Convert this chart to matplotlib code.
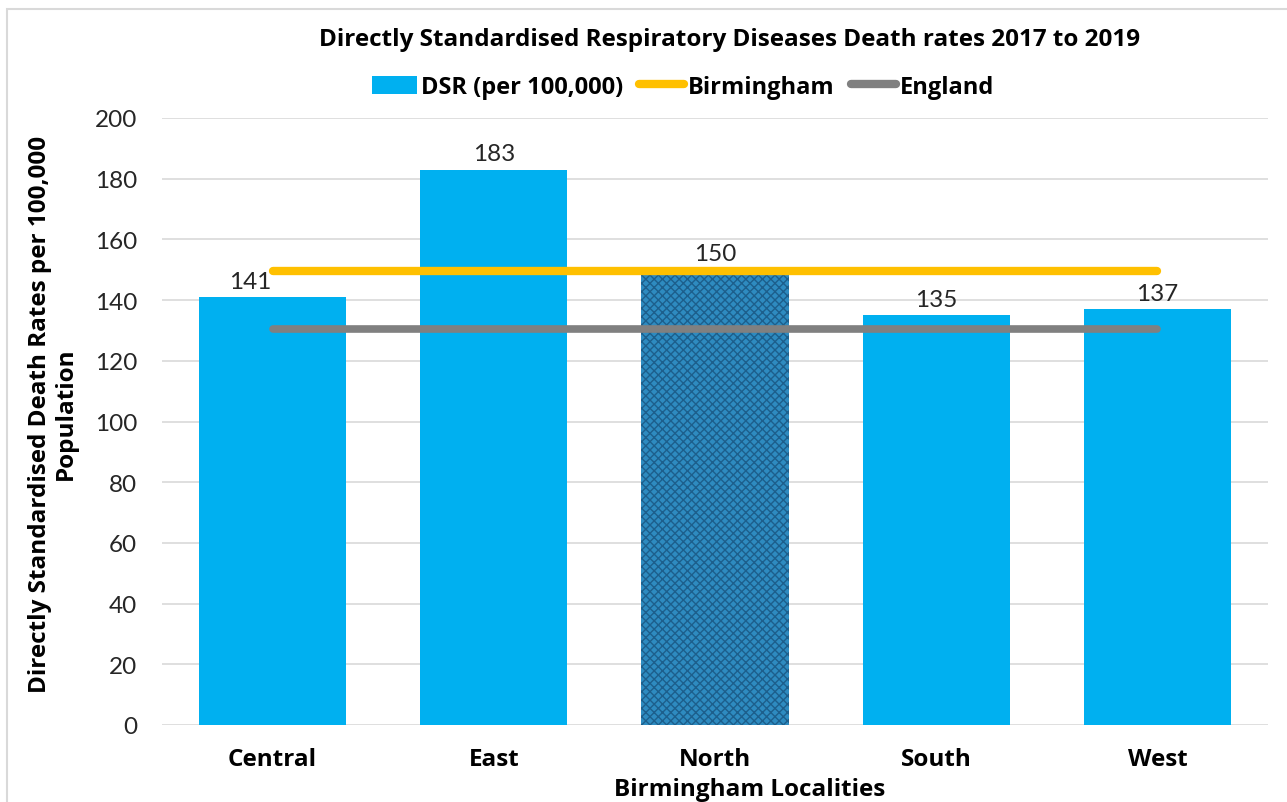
import matplotlib
matplotlib.use("Agg")
import matplotlib.pyplot as plt
from matplotlib.patches import Patch, Rectangle
from matplotlib.lines import Line2D

categories = ["Central", "East", "North", "South", "West"]
dsr_values = [141, 183, 150, 135, 137]
birmingham_rate = 149.5
england_rate = 130.5
yticks = [0, 20, 40, 60, 80, 100, 120, 140, 160, 180, 200]

plt.rcParams['font.family'] = ['Lato', 'DejaVu Sans']
plt.rcParams['hatch.linewidth'] = 1.0
BOLD = ['Open Sans', 'DejaVu Sans']

W, H = 1287, 803
fig = plt.figure(figsize=(W / 100, H / 100), dpi=100)

# chart border
fig.patches.append(Rectangle((7 / W, -0.1), 1.2, 1 - 10 / H + 0.1, transform=fig.transFigure,
                             fill=False, edgecolor='#d9d9d9', linewidth=1.5))

ax = fig.add_axes([162 / W, 1 - 726 / H, (1268 - 162) / W, (726 - 119) / H])
x = list(range(len(categories)))
colors = ['#00B0F0'] * len(categories)
bars = ax.bar(x, dsr_values, width=0.665, color=colors, zorder=2)
# North bar hatched
nb = bars[2]
nb.set_facecolor('#2E8BC0')
nb.set_edgecolor('#1d5f8c')
nb.set_hatch('xxxx')
nb.set_linewidth(0)

ax.plot([x[0], x[-1]], [birmingham_rate] * 2, color='#FFC000', lw=6, solid_capstyle='round', zorder=3)
ax.plot([x[0], x[-1]], [england_rate] * 2, color='#808080', lw=5.5, solid_capstyle='round', zorder=3)

for i, v in enumerate(dsr_values):
    dx = -16 if i == 0 else 0
    ax.annotate(f"{v}", (x[i], v), xytext=(dx, 4), textcoords='offset points',
                ha='center', va='bottom', fontsize=17.5, color='#262626')

ax.set_xlim(-0.5, len(categories) - 0.5)
ax.set_ylim(0, 200)
ax.set_yticks(yticks)
ax.set_yticklabels([str(t) for t in yticks], fontsize=17.5, color='#262626')
ax.set_xticks(x)
ax.set_xticklabels(categories, fontsize=17.5, fontweight='bold', color='black', family=BOLD)
ax.tick_params(axis='both', length=0)
ax.tick_params(axis='y', pad=18)
ax.tick_params(axis='x', pad=16)
ax.grid(axis='y', color='#d9d9d9', lw=1.2, zorder=0)
ax.set_axisbelow(True)
for s in ax.spines.values():
    s.set_visible(False)

fig.text(730 / W, 1 - 40 / H, "Directly Standardised Respiratory Diseases Death rates 2017 to 2019",
         ha='center', va='center', fontsize=17.5, fontweight='bold', family=BOLD)
fig.text(750 / W, 1 - 790 / H, "Birmingham Localities", ha='center', va='center',
         fontsize=17.5, fontweight='bold', family=BOLD)
fig.text(53 / W, 1 - 414 / H, "Directly Standardised Death Rates per 100,000\nPopulation",
         ha='center', va='center', rotation=90, fontsize=17.5, fontweight='bold', family=BOLD,
         linespacing=1.1)

handles = [Patch(facecolor='#00B0F0', edgecolor='none'),
           Line2D([0], [0], color='#FFC000', lw=6, solid_capstyle='round'),
           Line2D([0], [0], color='#808080', lw=6, solid_capstyle='round')]
labels = ["DSR (per 100,000)", "Birmingham", "England"]
fig.legend(handles, labels, loc='center', bbox_to_anchor=(683 / W, 1 - 88 / H), ncol=3,
           frameon=False, prop={'family': BOLD, 'weight': 'bold', 'size': 17},
           handlelength=1.9, handletextpad=0.15, columnspacing=0.7, handleheight=0.8)

fig.savefig("out.png", dpi=100)
